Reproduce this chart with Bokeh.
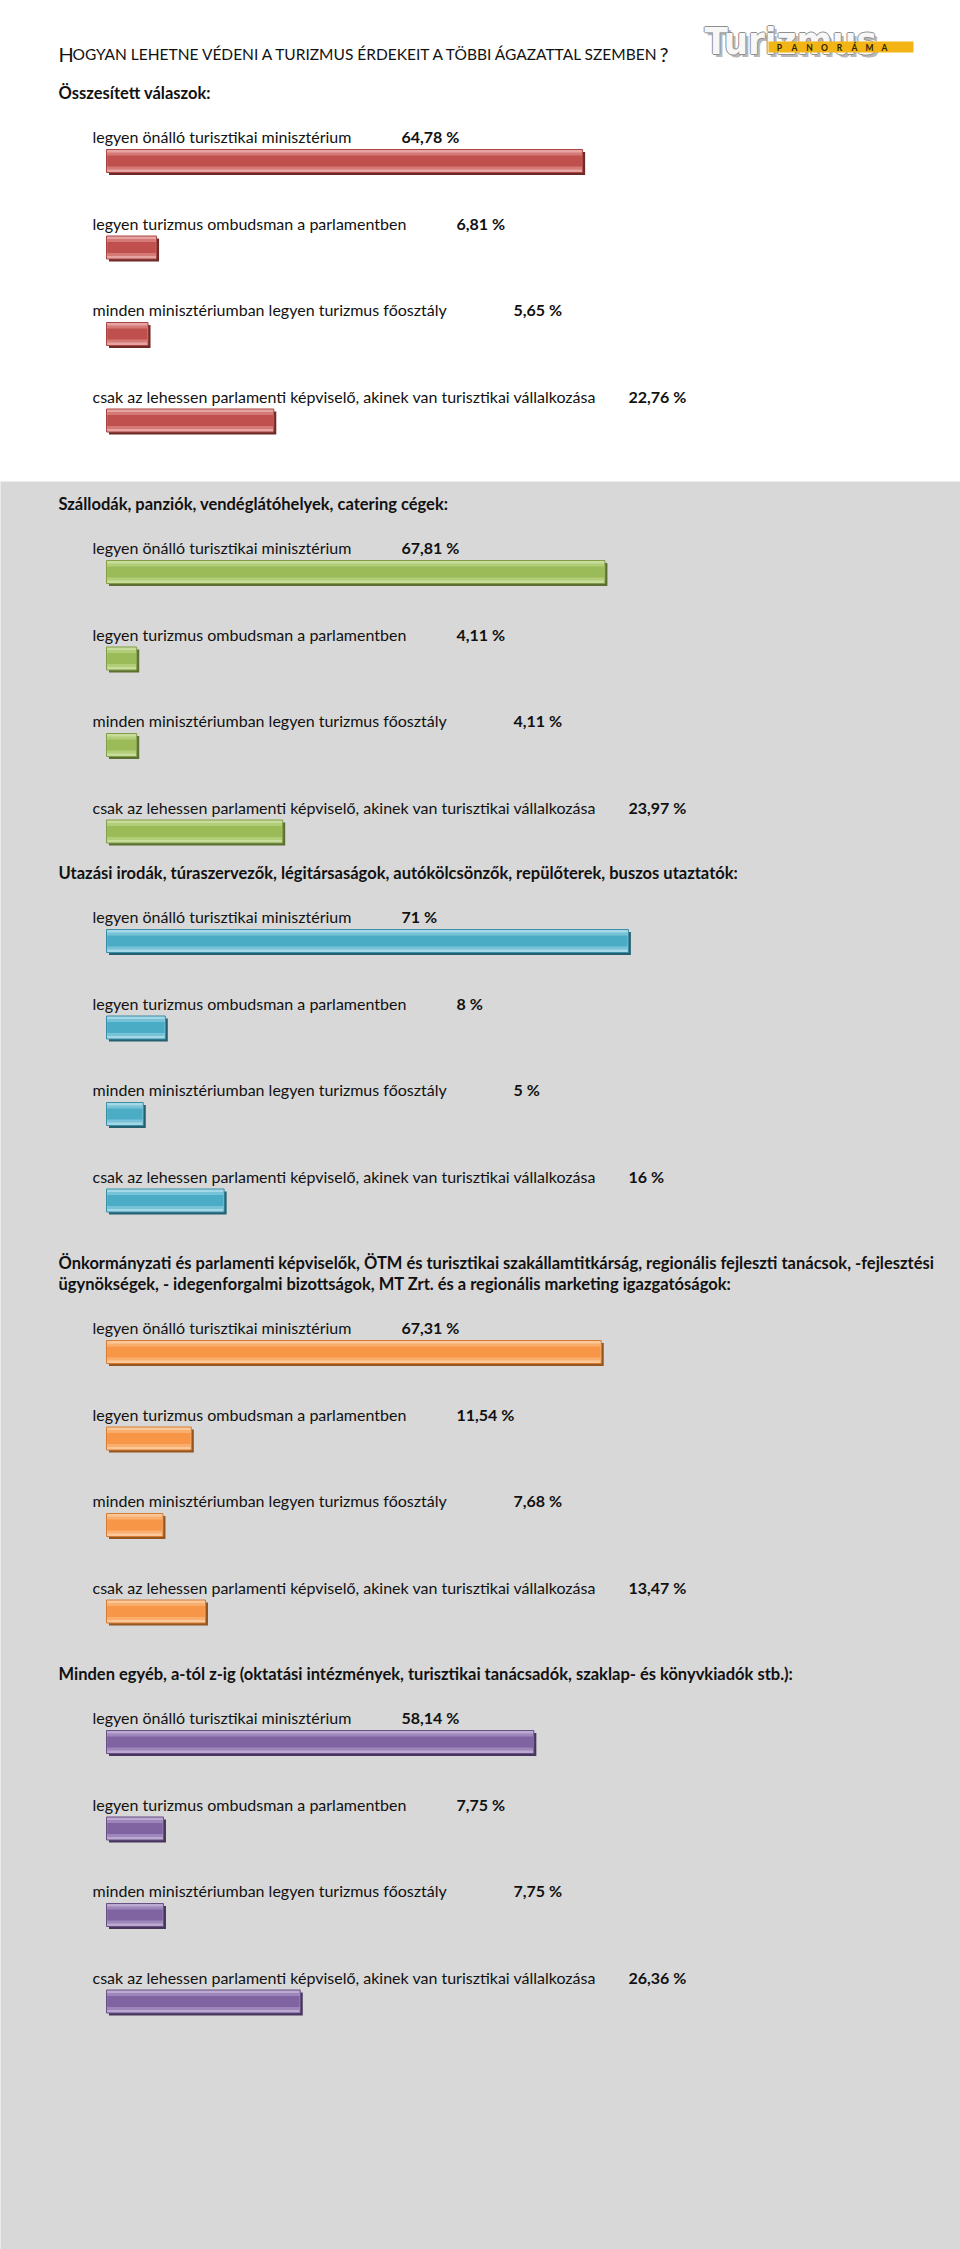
from bokeh.plotting import figure
from bokeh.models import Range1d
from bokeh.core.properties import value
from bokeh.embed import file_html
from bokeh.resources import INLINE

# ---------------- data ----------------
categories = [
    "legyen önálló turisztikai minisztérium",
    "legyen turizmus ombudsman a parlamentben",
    "minden minisztériumban legyen turizmus főosztály",
    "csak az lehessen parlamenti képviselő, akinek van turisztikai vállalkozása",
]
section_headers = [
    ["Összesített válaszok:"],
    ["Szállodák, panziók, vendéglátóhelyek, catering cégek:"],
    ["Utazási irodák, túraszervezők, légitársaságok, autókölcsönzők, repülőterek, buszos utaztatók:"],
    ["Önkormányzati és parlamenti képviselők, ÖTM és turisztikai szakállamtitkárság, regionális fejleszti tanácsok, -fejlesztési",
     "ügynökségek, - idegenforgalmi bizottságok, MT Zrt. és a regionális marketing igazgatóságok:"],
    ["Minden egyéb, a-tól z-ig (oktatási intézmények, turisztikai tanácsadók, szaklap- és könyvkiadók stb.):"],
]
overall = [64.78, 6.81, 5.65, 22.76]
hotels = [67.81, 4.11, 4.11, 23.97]
travel = [71, 8, 5, 16]
local_gov = [67.31, 11.54, 7.68, 13.47]
other = [58.14, 7.75, 7.75, 26.36]
overall_labels = ["64,78 %", "6,81 %", "5,65 %", "22,76 %"]
hotels_labels = ["67,81 %", "4,11 %", "4,11 %", "23,97 %"]
travel_labels = ["71 %", "8 %", "5 %", "16 %"]
local_gov_labels = ["67,31 %", "11,54 %", "7,68 %", "13,47 %"]
other_labels = ["58,14 %", "7,75 %", "7,75 %", "26,36 %"]

series = [overall, hotels, travel, local_gov, other]
series_labels = [overall_labels, hotels_labels, travel_labels, local_gov_labels, other_labels]

title_text = ("H", "OGYAN LEHETNE VÉDENI A TURIZMUS ÉRDEKEIT A TÖBBI ÁGAZATTAL SZEMBEN", "?")
logo_word = "Turizmus"
logo_letters = list("PANORÁMA")

# ---------------- styling / layout ----------------
palettes = [
    # light, mid, main, edge, shadow
    ("#e6a4a2", "#d57976", "#c0504d", "#a94643", "#6e2a28"),
    ("#c8dc9c", "#b2cd78", "#9bbb59", "#819d47", "#5b7030"),
    ("#a4d8e7", "#78c2d7", "#4bacc6", "#3a8ea5", "#24606f"),
    ("#fcc89a", "#f9ae6e", "#f79646", "#d47c34", "#95561f"),
    ("#bba9d2", "#9d86ba", "#8064a2", "#684f86", "#46365c"),
]
PX_PER_PCT = 7.35
X0 = 106.0          # page x of 0 %
W, H = 960, 2249
header_y = [92, 503, 872, 1283, 1673]
ROW_GAP = 86.5
label_x_px = 92
value_x_px = [401, 456, 513, 628]
FONT = "Lato"
FS_HEAD = "16.5px"
FS = "16px"


def px(xp):
    """page pixel x -> data (percent) coordinate"""
    return (xp - X0) / PX_PER_PCT


p = figure(width=W, height=H,
           x_range=Range1d(px(0), px(W)),
           y_range=Range1d(H, 0),
           min_border=0, outline_line_color=None,
           toolbar_location=None, output_backend="svg")
p.axis.visible = False
p.grid.visible = False
p.background_fill_color = "#ffffff"
p.border_fill_color = "#ffffff"

# grey background for the lower part
p.quad(left=[px(-10)], right=[px(980)], top=[481], bottom=[2270],
       fill_color="#d8d8d8", line_color=None)

# ---------------- title ----------------
p.text(x=[px(58)], y=[53], text=[title_text[0]], text_font=value(FONT),
       text_font_size="20px", text_baseline="alphabetic", text_color="#111111")
p.text(x=[px(72)], y=[53], text=[title_text[1]], text_font=value(FONT),
       text_font_size="15.5px", text_baseline="alphabetic", text_color="#111111")
p.text(x=[px(659)], y=[53], text=[title_text[2]], text_font=value(FONT),
       text_font_size="20px", text_baseline="alphabetic", text_color="#111111")

# ---------------- logo ----------------
logo_font = "'DejaVu Sans Condensed', 'Liberation Sans Narrow', 'Roboto', sans-serif"
for dx, dy, col in [(3, 3, "#b8b8b8"), (-1, 0, "#8f8f8f"), (1, 0, "#8f8f8f"),
                    (0, -1, "#8f8f8f"), (0, 1, "#8f8f8f"), (0, 0, "#f7f7f7")]:
    p.text(x=[px(704 + dx)], y=[40 + dy], text=[logo_word], text_font=value(logo_font),
           text_font_style="bold", text_font_size="38px", text_baseline="alphabetic",
           text_color=col)
p.quad(left=[px(768)], right=[px(913)], top=[41], bottom=[52],
       fill_color="#f2b515", line_color=None)
p.text(x=[px(779 + 15 * i) for i in range(len(logo_letters))], y=[47] * len(logo_letters),
       text=logo_letters, text_font=value(FONT), text_font_style="bold",
       text_font_size="8.5px", text_baseline="middle", text_align="center",
       text_color="#2a2200")

# ---------------- sections ----------------
sh = 2.5 / PX_PER_PCT  # shadow offset in percent units
for s, (vals, vlabels, headers, pal) in enumerate(zip(series, series_labels, section_headers, palettes)):
    hy = header_y[s]
    n = len(headers)
    p.text(x=[px(58)] * n, y=[hy - 21 * (n - 1 - i) for i in range(n)], text=headers,
           text_font=value(FONT), text_font_style="bold", text_font_size=FS_HEAD,
           text_baseline="middle", text_color="#111111")
    ly = [hy + 44 + i * ROW_GAP for i in range(len(vals))]
    by = [y + 24.5 for y in ly]
    light, mid, main, edge, shadow = pal
    # shadow
    p.hbar(y=[y + 2.5 for y in by], left=sh, right=[v + sh for v in vals], height=23,
           fill_color=shadow, line_color=None)
    # cylinder face
    p.hbar(y=by, left=0, right=vals, height=23, fill_color=light, line_color=edge, line_width=1)
    p.hbar(y=by, left=0.1, right=[v - 0.1 for v in vals], height=17, fill_color=mid, line_color=None)
    p.hbar(y=by, left=0.1, right=[v - 0.1 for v in vals], height=11, fill_color=main, line_color=None)
    # labels
    p.text(x=[px(label_x_px)] * len(vals), y=ly, text=categories, text_font=value(FONT),
           text_font_size=FS, text_baseline="middle", text_color="#111111")
    p.text(x=[px(v) for v in value_x_px], y=ly, text=vlabels, text_font=value(FONT),
           text_font_style="bold", text_font_size=FS, text_baseline="middle",
           text_color="#111111")

open("out.html", "w").write(file_html(p, INLINE))
